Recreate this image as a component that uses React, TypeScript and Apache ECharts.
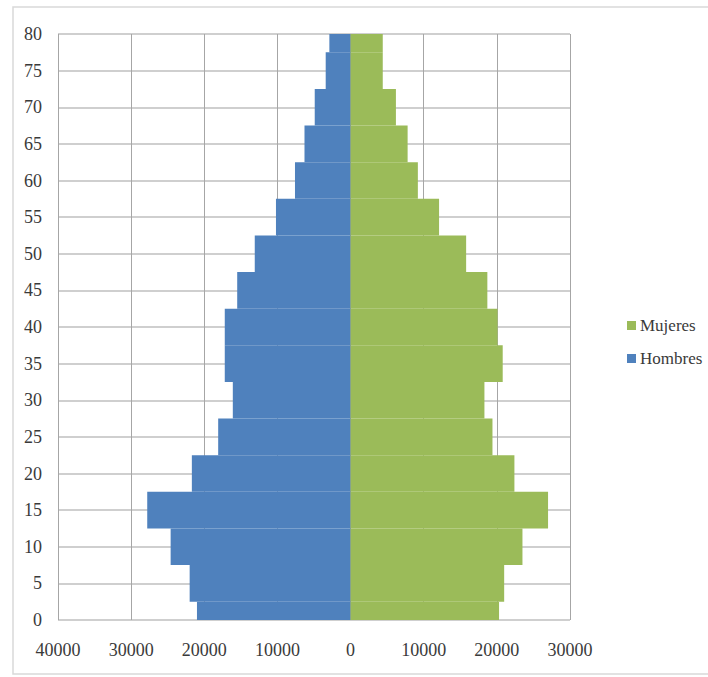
import React, { useEffect, useRef } from "react";
import * as echarts from "echarts";

const ages = [0, 5, 10, 15, 20, 25, 30, 35, 40, 45, 50, 55, 60, 65, 70, 75, 80];
const hombres = [21000, 22000, 24600, 27800, 21700, 18100, 16100, 17200, 17200, 15500, 13100, 10200, 7600, 6300, 4900, 3400, 2900];
const mujeres = [20300, 21000, 23500, 27000, 22400, 19400, 18300, 20800, 20100, 18700, 15800, 12100, 9200, 7800, 6200, 4400, 4400];
const xTicks = { min: -40000, max: 30000, interval: 10000 };
const yTicks = { min: 0, max: 80, interval: 5 };
const halfBand = 2.5;

export default function App() {
  const ref = useRef<HTMLDivElement>(null);
  useEffect(() => {
    if (!ref.current) return;
    const chart = echarts.init(ref.current, null, { renderer: "svg" });
    const font = "'Liberation Serif', serif";
    const renderItem = (params: any, api: any) => {
      const v = api.value(0);
      const age = api.value(1);
      const p1 = api.coord([0, age + halfBand]);
      const p2 = api.coord([v, age - halfBand]);
      const rect = {
        x: Math.min(p1[0], p2[0]),
        y: Math.min(p1[1], p2[1]),
        width: Math.abs(p2[0] - p1[0]),
        height: Math.abs(p2[1] - p1[1]),
      };
      const cs = params.coordSys;
      const clipped = echarts.graphic.clipRectByRect(rect, {
        x: cs.x,
        y: cs.y,
        width: cs.width,
        height: cs.height,
      });
      if (!clipped) return null;
      return { type: "rect", shape: clipped, style: { fill: api.visual("color") } };
    };
    chart.setOption({
      animation: false,
      backgroundColor: "#ffffff",
      graphic: [
        {
          type: "rect",
          shape: { x: 13, y: 7, width: 800, height: 667 },
          style: { fill: "none", stroke: "#d9d9d9", lineWidth: 1.5 },
          silent: true,
        },
      ],
      legend: {
        orient: "vertical",
        left: 622,
        top: 312,
        itemWidth: 9,
        itemHeight: 9,
        itemGap: 16,
        icon: "rect",
        data: ["Mujeres", "Hombres"],
        textStyle: { fontFamily: font, fontSize: 17, color: "#3a3a3a", padding: [0, 0, 0, -1] },
      },
      grid: { left: 58, top: 34, width: 512, height: 586, containLabel: false },
      xAxis: {
        type: "value",
        min: xTicks.min,
        max: xTicks.max,
        interval: xTicks.interval,
        axisLine: { show: false },
        axisTick: { show: false },
        axisLabel: {
          formatter: (v: number) => String(Math.abs(v)),
          fontFamily: font,
          fontSize: 18,
          color: "#3a3a3a",
          margin: 21,
        },
        splitLine: { show: true, lineStyle: { color: "#a6a6a6", width: 1 } },
      },
      yAxis: {
        type: "value",
        min: yTicks.min,
        max: yTicks.max,
        interval: yTicks.interval,
        axisLine: { show: false },
        axisTick: { show: false },
        axisLabel: {
          fontFamily: font,
          fontSize: 18,
          color: "#3a3a3a",
          margin: 16,
        },
        splitLine: { show: true, lineStyle: { color: "#bfbfbf", width: 1.5 } },
      },
      series: [
        {
          name: "Hombres",
          type: "custom",
          renderItem,
          encode: { x: 0, y: 1 },
          data: hombres.map((v, i) => [-v, ages[i]]),
          itemStyle: { color: "#4f81bd" },
        },
        {
          name: "Mujeres",
          type: "custom",
          renderItem,
          encode: { x: 0, y: 1 },
          data: mujeres.map((v, i) => [v, ages[i]]),
          itemStyle: { color: "#9bbb59" },
        },
      ],
    });
    return () => chart.dispose();
  }, []);
  return (
    <div
      ref={ref}
      style={{ position: "fixed", left: 0, top: 0, width: 708, height: 677 }}
    />
  );
}
